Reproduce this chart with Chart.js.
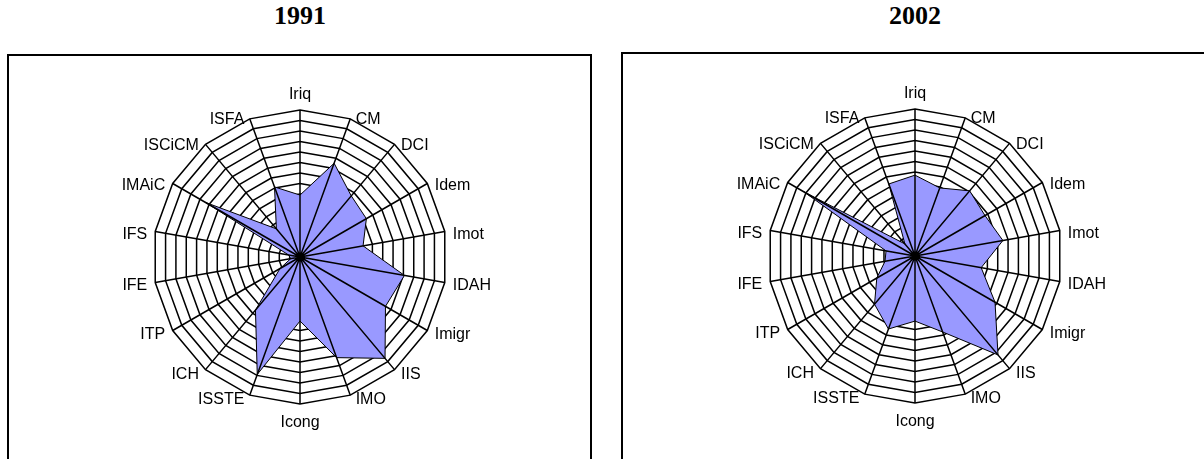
<!DOCTYPE html>
<html>
<head>
<meta charset="utf-8">
<script src="https://cdn.jsdelivr.net/npm/chart.js@4.4.1/dist/chart.umd.min.js"></script>
<style>
  body { margin: 0; width: 1204px; height: 459px; overflow: hidden; background: #fff; position: relative; }
  .title { position: absolute; top: 1px; width: 200px; text-align: center;
           font: bold 26px "Liberation Serif", "Times New Roman", serif; color: #000; }
  .box { position: absolute; border: 2px solid #000; width: 581px; height: 440px; }
  canvas { position: absolute; }
</style>
</head>
<body>
<div class="title" style="left:200px">1991</div>
<div class="title" style="left:815px">2002</div>
<div class="box" style="left:7px; top:54px"></div>
<div class="box" style="left:621px; top:52px"></div>
<canvas id="radar-1991" width="580" height="400" style="left:10px; top:57px"></canvas>
<canvas id="radar-2002" width="580" height="400" style="left:625px; top:56px"></canvas>

<script>
// Axis categories, clockwise from the top
const categories = ['Iriq', 'CM', 'DCI', 'Idem', 'Imot', 'IDAH', 'Imigr', 'IIS', 'IMO',
                    'Icong', 'ISSTE', 'ICH', 'ITP', 'IFE', 'IFS', 'IMAiC', 'ISCiCM', 'ISFA'];

// Values, in grid-ring units
const values1991 = [5.9, 9.5, 7.6, 7.3, 6.1, 10.1, 9.4, 12.6, 10.2, 6.1, 11.9, 6.6, 2.2, 0.9, 1.1, 10.4, 3.5, 7.1];
const values2002 = [7.7, 6.9, 8.1, 7.7, 8.5, 6.4, 8.8, 12.3, 7.7, 6.2, 7.4, 6.0, 4.2, 2.9, 2.8, 12.2, 1.5, 7.3];

const ringMax = 14;
const ringStep = 1;

// Spokes go on top of the filled area, labels hug the outer vertices (Excel style)
const spokesAndLabels = {
  id: 'spokesAndLabels',
  afterDatasetsDraw(chart) {
    const s = chart.scales.r;
    const ctx = chart.ctx;
    const n = chart.data.labels.length;
    ctx.save();
    ctx.strokeStyle = '#000';
    ctx.lineWidth = 1.5;
    ctx.beginPath();
    for (let i = 0; i < n; i++) {
      const p = s.getPointPosition(i, s.drawingArea);
      ctx.moveTo(s.xCenter, s.yCenter);
      ctx.lineTo(p.x, p.y);
    }
    ctx.stroke();

    ctx.font = '16px "Liberation Sans", Arial, sans-serif';
    ctx.fillStyle = '#000';
    ctx.textBaseline = 'middle';
    chart.data.labels.forEach((lab, i) => {
      const p = s.getPointPosition(i, s.drawingArea);
      const deg = i * 360 / n;
      const sin = Math.sin(deg * Math.PI / 180);
      const cos = Math.cos(deg * Math.PI / 180);
      let x = p.x, y;
      if (deg === 0) {
        ctx.textAlign = 'center';
        y = p.y - 15;
      } else if (deg === 180) {
        ctx.textAlign = 'center';
        y = p.y + 18.5;
      } else {
        ctx.textAlign = deg < 180 ? 'left' : 'right';
        x = p.x + Math.sign(sin) * (4 + 4 * Math.abs(sin));
        y = p.y + 3 - 2 * cos;
      }
      ctx.fillText(lab, x, y);
    });
    ctx.restore();
  }
};

function makeRadar(id, values) {
  const ctx = document.getElementById(id).getContext('2d');
  return new Chart(ctx, {
    type: 'radar',
    data: {
      labels: categories,
      datasets: [{
        data: values,
        backgroundColor: '#9999FF',
        borderColor: '#000',
        borderWidth: 1,
        pointRadius: 0,
        fill: true,
      }],
    },
    options: {
      responsive: false,
      animation: false,
      layout: { padding: { left: 142.5, right: 142.5, top: 53, bottom: 52 } },
      plugins: { legend: { display: false }, tooltip: { enabled: false } },
      scales: {
        r: {
          min: 0,
          max: ringMax,
          ticks: { display: false, stepSize: ringStep },
          grid: { color: '#000', lineWidth: 1.5 },
          angleLines: { display: false },
          pointLabels: { display: false },
        },
      },
    },
    plugins: [spokesAndLabels],
  });
}

makeRadar('radar-1991', values1991);
makeRadar('radar-2002', values2002);
</script>
</body>
</html>
